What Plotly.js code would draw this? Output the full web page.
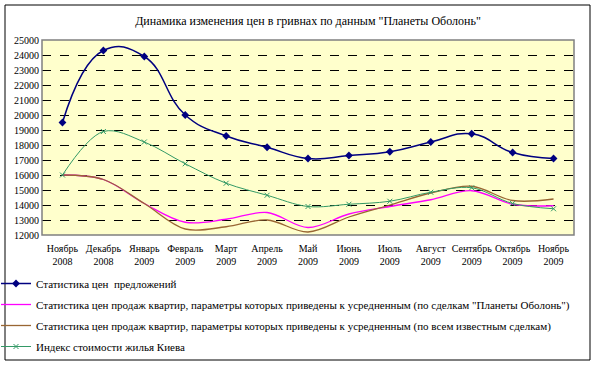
<!DOCTYPE html>
<html>
<head>
<meta charset="utf-8">
<script src="https://cdn.plot.ly/plotly-3.0.1.min.js"></script>
<style>
html,body{margin:0;padding:0;background:#fff;}
#chart{width:600px;height:367px;}
</style>
</head>
<body>
<div id="chart"></div>
<script>
const months = ["Ноябрь<br>2008","Декабрь<br>2008","Январь<br>2009","Февраль<br>2009","Март<br>2009","Апрель<br>2009","Май<br>2009","Июнь<br>2009","Июль<br>2009","Август<br>2009","Сентябрь<br>2009","Октябрь<br>2009","Ноябрь<br>2009"];
const offers = [19500,24300,23900,20000,18600,17850,17100,17300,17550,18200,18750,17500,17100];
const obolonSales = [16000,15700,14100,12850,13050,13500,12500,13400,13900,14350,14950,14050,13950];
const allSales = [16000,15700,14100,12400,12550,13000,12200,13200,14000,14800,15250,14300,14400];
const kievIndex = [16000,18900,18200,16750,15450,14650,13900,14050,14250,14850,15150,14100,13750];
const yTicks = [12000,13000,14000,15000,16000,17000,18000,19000,20000,21000,22000,23000,24000,25000];

const names = [
  "Статистика цен  предложений",
  "Статистика цен продаж квартир, параметры которых приведены к усредненным (по сделкам \"Планеты Оболонь\")",
  "Статистика цен продаж квартир, параметры которых приведены к усредненным (по всем известным сделкам)",
  "Индекс стоимости жилья Киева"
];

const serif = "Liberation Serif, Times New Roman, serif";
const x = months.map((m, i) => i);

const traces = [
  {x: x, y: offers, name: names[0], legendgroup: "a", mode: "lines+markers",
   line: {color: "#000080", width: 1.5, shape: "spline", smoothing: 1.3},
   marker: {symbol: "diamond", size: 6, color: "#000080"}},
  {x: x, y: obolonSales, name: names[1], legendgroup: "b", mode: "lines",
   line: {color: "#FF00FF", width: 1.3, shape: "spline", smoothing: 1}},
  {x: x, y: allSales, name: names[2], legendgroup: "c", mode: "lines",
   line: {color: "#996633", width: 1.3, shape: "spline", smoothing: 1}},
  {x: x, y: kievIndex, name: names[3], legendgroup: "d", mode: "lines+markers",
   line: {color: "#339966", width: 1, shape: "spline", smoothing: 1},
   marker: {symbol: "x-thin", size: 5, line: {color: "#339966", width: 1}, color: "#339966"}}
];

const W = 532, H = 195, L = 42, T = 40;
function px(v){ return (v - L) / W; }
function py(v){ return (T + H - v) / H; }

const layout = {
  width: 600, height: 367,
  margin: {l: L, r: 600 - L - W, t: T, b: 367 - T - H, autoexpand: false},
  paper_bgcolor: "#ffffff",
  plot_bgcolor: "#FFFFCC",
  font: {family: serif, size: 10, color: "#000"},
  title: {text: "Динамика изменения цен в гривнах по данным \"Планеты Оболонь\"",
          font: {family: serif, size: 12, color: "#000"},
          x: 0.5, xref: "paper", y: 1 - 21/367, yanchor: "middle"},
  xaxis: {range: [-0.5, 12.5], tickmode: "array", tickvals: x, ticktext: months,
          showgrid: false, zeroline: false, showline: false, ticks: "",
          tickangle: 0, automargin: false, ticklabelstandoff: 6,
          tickfont: {family: serif, size: 10}, fixedrange: true},
  yaxis: {range: [12000, 25000], tickmode: "array", tickvals: yTicks,
          ticktext: yTicks.map(String), showgrid: true, gridcolor: "#000000",
          griddash: "dash", gridwidth: 1, zeroline: false, showline: false,
          ticks: "", tickfont: {family: serif, size: 10}, ticklabelstandoff: 2,
          automargin: false, fixedrange: true},
  showlegend: true,
  legend: {x: px(0), xanchor: "left", y: py(269), yanchor: "top",
           orientation: "v", tracegroupgap: 2, itemwidth: 30, indentation: -4,
           font: {family: serif, size: 11, color: "#000"},
           bgcolor: "rgba(0,0,0,0)"},
  shapes: [
    {type: "rect", xref: "paper", yref: "paper", x0: 0, x1: 1, y0: 0, y1: 1,
     line: {color: "#808080", width: 1.5}, fillcolor: "rgba(0,0,0,0)", layer: "above"},
    {type: "rect", xref: "paper", yref: "paper", x0: px(5), x1: px(590), y0: py(360), y1: py(5),
     line: {color: "#000000", width: 1}, fillcolor: "rgba(0,0,0,0)"}
  ]
};

Plotly.newPlot("chart", traces, layout, {staticPlot: true, displayModeBar: false});
</script>
</body>
</html>
